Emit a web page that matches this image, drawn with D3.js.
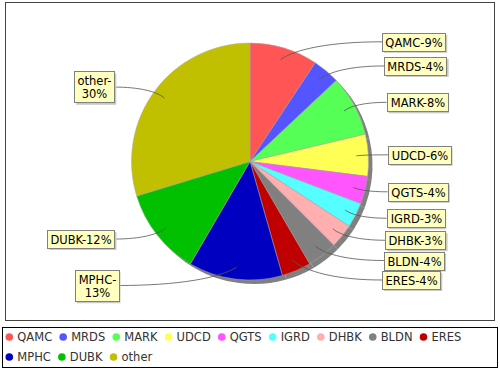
<!DOCTYPE html>
<html><head><meta charset="utf-8">
<script src="https://cdn.jsdelivr.net/npm/d3@7"></script>
<style>body{margin:0;background:#fff} svg{display:block;font-family:"DejaVu Sans",sans-serif}</style>
</head><body><svg id="c" width="500" height="370"></svg>
<script>
const categories = ["QAMC","MRDS","MARK","UDCD","QGTS","IGRD","DHBK","BLDN","ERES","MPHC","DUBK","other"];
const values = [9.3,3.7,8.3,5.7,3.8,3.4,3.3,4.1,4.0,12.8,11.9,29.7];
const colors = ["#FF5555","#5555FF","#55FF55","#FFFF55","#FF55FF","#55FFFF","#FFAFAF","#808080","#C00000","#0000C0","#00C000","#C0C000"];
const wrapLabel = [false,false,false,false,false,false,false,false,false,true,false,true];

const svg = d3.select("#c");
svg.append("rect").attr("x",5.5).attr("y",2.5).attr("width",489).attr("height",318)
  .attr("fill","#fff").attr("stroke","#444");

const cx = 250, cy = 161.5, r = 118.5;
const pie = d3.pie().sort(null).value(d => d);
const arcs = pie(values);
const arc = d3.arc().innerRadius(0).outerRadius(r);
const g = svg.append("g").attr("transform", `translate(${cx},${cy})`);
g.append("g").attr("transform","translate(4,4)").selectAll("path").data(arcs).join("path")
  .attr("d", arc).attr("fill", "#808080");
g.append("g").selectAll("path").data(arcs).join("path")
  .attr("d", arc).attr("fill", (d,i) => colors[i]).attr("stroke", "#aaa").attr("stroke-width", 0.5);

const total = d3.sum(values);
const fs = 11.5, lh = 13.4, padX = 3, padY = 2.3;
const labels = arcs.map((a, i) => {
  const mid = (a.startAngle + a.endAngle) / 2;
  const pct = Math.round(a.data / total * 100);
  const lines = wrapLabel[i] ? [categories[i] + "-", pct + "%"] : [categories[i] + "-" + pct + "%"];
  return {i, mid, lines, right: Math.sin(mid) > 0, y: cy - 125 * Math.cos(mid), h: lines.length * lh + 2 * padY};
});
[true, false].forEach(side => {
  const arr = labels.filter(l => l.right === side).sort((a, b) => a.y - b.y);
  for (let k = 1; k < arr.length; k++) {
    const minY = arr[k-1].y + arr[k-1].h / 2 + arr[k].h / 2 + 1.5;
    if (arr[k].y < minY) arr[k].y = minY;
  }
});
// measure
const meas = svg.append("text").attr("font-size", fs);
labels.forEach(l => {
  l.w = d3.max(l.lines, t => { meas.text(t); return meas.node().getComputedTextLength(); }) + 2 * padX;
  const off = 138 * Math.sqrt(1 - Math.pow((l.y - cy) / 410, 2));
  l.x = l.right ? cx + off : cx - off - l.w;
  l.tx = l.right ? l.x : l.x + l.w;
  l.lx = cx + 0.9 * r * Math.sin(l.mid);
  l.ly = cy - 0.9 * r * Math.cos(l.mid);
});
meas.remove();

const lg = svg.append("g");
lg.selectAll("path").data(labels).join("path")
  .attr("d", l => {
    const dx = l.tx - l.lx, dy = l.y - l.ly;
    return `M${l.tx},${l.y}C${l.lx + 0.5*dx},${l.y} ${l.lx + 0.15*dx},${l.ly + 0.6*dy} ${l.lx},${l.ly}`;
  })
  .attr("fill", "none").attr("stroke", "#555").attr("stroke-width", 0.8);

const boxes = lg.selectAll("g.lab").data(labels).join("g").attr("class", "lab");
boxes.append("rect").attr("x", l => l.x + 2).attr("y", l => l.y - l.h/2 + 2)
  .attr("width", l => l.w).attr("height", l => l.h).attr("fill", "#c8c8c8");
boxes.append("rect").attr("x", l => Math.round(l.x) + 0.5).attr("y", l => Math.round(l.y - l.h/2) + 0.5)
  .attr("width", l => Math.round(l.w)).attr("height", l => Math.round(l.h))
  .attr("fill", "#FFFFC0").attr("stroke", "#808080").attr("stroke-width", 1);
boxes.each(function(l) {
  const top = Math.round(l.y - l.h/2) + 0.5;
  d3.select(this).selectAll("text").data(l.lines).join("text")
    .attr("x", Math.round(l.x) + 0.5 + Math.round(l.w) / 2)
    .attr("y", (t, k) => top + padY + lh * (k + 0.5))
    .attr("dy", "0.36em")
    .attr("text-anchor", "middle").attr("font-size", fs).attr("fill", "#000")
    .text(t => t);
});

// legend
svg.append("rect").attr("x", 2.5).attr("y", 327.5).attr("width", 495).attr("height", 40)
  .attr("fill", "#fff").attr("stroke", "#000");
const leg = svg.append("g");
let lx = 9.3, row = 0;
const rowY = [337, 357];
categories.forEach((c, i) => {
  const t = leg.append("text").attr("font-size", fs).attr("fill", "#333").text(c);
  const w = t.node().getComputedTextLength();
  if (lx + 8 + w > 495) { row++; lx = 9.3; }
  leg.append("circle").attr("cx", lx).attr("cy", rowY[row]).attr("r", 3.8).attr("fill", colors[i]);
  t.attr("x", lx + 8).attr("y", rowY[row]).attr("dy", "0.36em");
  lx = lx + 8 + w + 11;
});
</script></body></html>
